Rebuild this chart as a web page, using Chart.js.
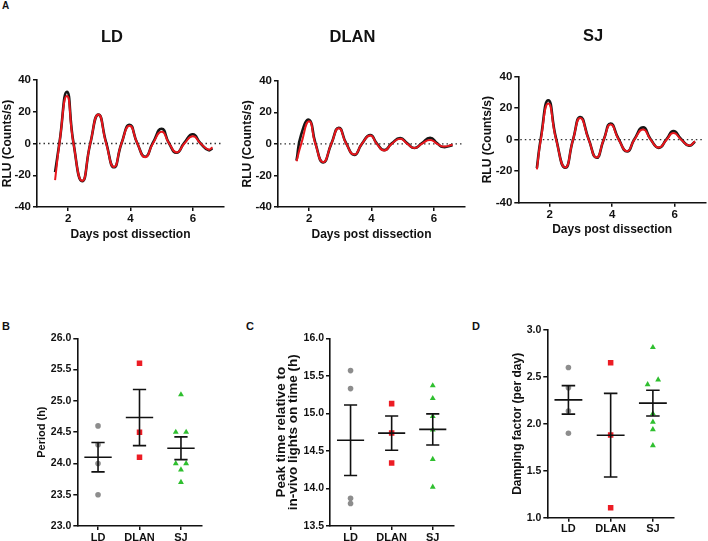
<!DOCTYPE html>
<html><head><meta charset="utf-8">
<script src="https://cdn.jsdelivr.net/npm/chart.js@4.4.1/dist/chart.umd.min.js"></script>
<style>
html,body{margin:0;padding:0;background:#fff;}
body{width:708px;height:541px;position:relative;overflow:hidden;font-family:"Liberation Sans",Arial,sans-serif;}
canvas{position:absolute;}
.lbl{position:absolute;font-weight:bold;line-height:1;color:#111;}
</style></head><body>
<div class="lbl" style="left:2px;top:1px;font-size:10px">A</div>
<div class="lbl" style="left:2px;top:321px;font-size:11px">B</div>
<div class="lbl" style="left:246px;top:321px;font-size:11px">C</div>
<div class="lbl" style="left:472px;top:321px;font-size:11px">D</div>
<canvas id="cLD" width="242" height="230" style="left:0px;top:20px"></canvas>
<canvas id="cDLAN" width="233" height="230" style="left:240px;top:20px"></canvas>
<canvas id="cSJ" width="227" height="230" style="left:480px;top:20px"></canvas>
<canvas id="cB" width="215" height="241" style="left:0px;top:300px"></canvas>
<canvas id="cC" width="235" height="241" style="left:230px;top:300px"></canvas>
<canvas id="cD" width="230" height="241" style="left:460px;top:300px"></canvas>
<script>
// ---------- data ----------
const dayTicks = [2, 4, 6];
const rluTicks = [-40, -20, 0, 20, 40];

const ldDays  = [1.58,1.72,1.96,2.17,2.45,2.71,2.97,3.22,3.47,3.71,3.97,4.22,4.47,4.72,5.0,5.24,5.48,5.73,6.0,6.25,6.5,6.63];
const ldFit   = [-23,0,30,0,-23.5,0,18.3,0,-14.8,0,11.2,0,-8.6,0,7.4,0,-5.6,0,4.6,0,-3.8,-2.5];
const ldData  = [-18,0.5,32.5,0.5,-23.8,0,18.2,0.5,-15,0,11.8,0,-8.3,0.5,9.3,0,-5.8,0.5,5.8,0,-4.2,-3];

const dlanDays = [1.595,1.745,2.0,2.2,2.45,2.71,2.95,3.19,3.45,3.69,3.96,4.17,4.41,4.65,4.92,5.15,5.38,5.61,5.88,6.11,6.3,6.6];
const dlanFit  = [-11,0,14.3,0,-11.6,0,9.9,0,-6.8,0,5.3,0,-4.2,0,3.2,0,-2.7,0,2.5,0,-1.7,-0.6];
const dlanData = [-10.5,6,15.2,0.5,-11.8,0,10.2,0.3,-7,0,5.6,0.3,-4,0.3,3.6,0.3,-2.6,0.3,3.8,0.3,-2,-0.8];

const sjDays = [1.594,1.72,1.96,2.21,2.5,2.75,2.98,3.25,3.5,3.73,3.95,4.21,4.48,4.71,4.99,5.23,5.49,5.74,5.96,6.21,6.46,6.65];
const sjFit  = [-18.9,0,23,0,-17.6,0,13.8,0,-11.3,0,9.6,0,-7.3,0,6.5,0,-5,0,4.2,0,-3.6,-1.0];
const sjData = [-18,1,25,0.5,-17.8,0,14.4,0.3,-11.5,0,10.3,0.3,-7.5,0.3,7.8,0.3,-5.2,0.3,5.5,0.3,-3.8,-1.2];

const groups = ['LD', 'DLAN', 'SJ'];

const periodLD   = [24.6, 24.3, 24.0, 23.5];
const periodDLAN = [25.6, 24.5, 24.1];
const periodSJ   = [25.1, 24.5, 24.5, 24.0, 24.0, 23.9, 23.7];
const periodSJSide = [0, -1, 1, -1, 1, 0, 0];
const periodTicks = [23.0, 23.5, 24.0, 24.5, 25.0, 25.5, 26.0];

const peakLD   = [15.57, 15.33, 13.87, 13.80];
const peakDLAN = [15.13, 14.74, 14.34];
const peakSJ   = [15.37, 15.20, 14.96, 14.78, 14.39, 14.02];
const peakTicks = [13.5, 14.0, 14.5, 15.0, 15.5, 16.0];

const dampLD   = [2.60, 2.385, 2.137, 1.90];
const dampDLAN = [2.65, 1.88, 1.107];
const dampSJ   = [2.815, 2.42, 2.47, 2.11, 2.02, 1.94, 1.77];
const dampSJSide = [0, -1, 1, 0, 0, 0, 0];
const dampTicks = [1.0, 1.5, 2.0, 2.5, 3.0];

// ---------- helpers ----------
const FONT = '"Liberation Sans", Arial, Helvetica, sans-serif';
Chart.defaults.font.family = FONT;
Chart.defaults.color = '#111';
Chart.defaults.animation = false;
const INK = '#111';

const zeroLine = {
  id: 'zeroLine',
  beforeDatasetsDraw(chart) {
    const {ctx, chartArea: a, scales: {y}} = chart;
    const py = y.getPixelForValue(0);
    ctx.save();
    ctx.setLineDash([1.5, 3]);
    ctx.strokeStyle = '#333';
    ctx.lineWidth = 1.3;
    ctx.beginPath();
    ctx.moveTo(a.left + 2, py);
    ctx.lineTo(a.right - 2, py);
    ctx.stroke();
    ctx.restore();
  }
};

function mean(a) { return a.reduce((s, v) => s + v, 0) / a.length; }
function sem(a) {
  const m = mean(a);
  const v = a.reduce((s, x) => s + (x - m) * (x - m), 0) / (a.length - 1);
  return Math.sqrt(v / a.length);
}

const meanSem = {
  id: 'meanSem',
  afterDatasetsDraw(chart, args, o) {
    const {ctx, scales: {x, y}} = chart;
    ctx.save();
    ctx.strokeStyle = INK;
    ctx.lineWidth = 1.6;
    o.sets.forEach((arr, i) => {
      const m = mean(arr), s = sem(arr);
      const xl = x.getPixelForValue(i - 0.33), xr = x.getPixelForValue(i + 0.33);
      const cl = x.getPixelForValue(i - 0.16), cr = x.getPixelForValue(i + 0.16);
      const xc = x.getPixelForValue(i);
      const ym = y.getPixelForValue(m), yt = y.getPixelForValue(m + s), yb = y.getPixelForValue(m - s);
      ctx.beginPath();
      ctx.moveTo(xl, ym); ctx.lineTo(xr, ym);
      ctx.moveTo(cl, yt); ctx.lineTo(cr, yt);
      ctx.moveTo(cl, yb); ctx.lineTo(cr, yb);
      ctx.moveTo(xc, yt); ctx.lineTo(xc, yb);
      ctx.stroke();
    });
    ctx.restore();
  }
};

function gridOpts() {
  return {display: true, drawOnChartArea: false, drawTicks: true, tickLength: 4, color: INK, lineWidth: 1.5};
}
function borderOpts() { return {display: true, color: INK, width: 1.6}; }

function pts(xs, ys) { return xs.map((x, i) => ({x: x, y: ys[i]})); }

function makeTop(id, title, days, fit, data, g) {
  new Chart(document.getElementById(id), {
    type: 'line',
    data: {
      datasets: [
        {data: pts(days, fit), borderColor: '#e8161c', borderWidth: 2.0, pointRadius: 0, tension: 0.55, fill: false},
        {data: pts(days, data), borderColor: '#161616', borderWidth: 2.6, pointRadius: 0, tension: 0.55, fill: false}
      ]
    },
    plugins: [zeroLine],
    options: {
      responsive: false,
      animation: false,
      layout: {padding: {left: 0, right: g.padR, top: 0, bottom: 0}},
      plugins: {
        legend: {display: false},
        tooltip: {enabled: false},
        title: {display: true, text: title, color: INK,
                font: {size: 16.5, weight: 'bold', lineHeight: 1.2},
                padding: {top: g.tTop, bottom: g.tBot}}
      },
      scales: {
        x: {
          type: 'linear', min: 1, max: 7,
          afterBuildTicks: s => { s.ticks = dayTicks.map(v => ({value: v})); },
          afterFit: s => { s.height = g.xH; },
          ticks: {font: {size: 11.5, weight: 'bold'}, color: INK, padding: 1, maxRotation: 0},
          grid: gridOpts(), border: borderOpts(),
          title: {display: true, text: 'Days post dissection', color: INK,
                  font: {size: 12, weight: 'bold', lineHeight: 1.2}, padding: {top: 0, bottom: g.xtPad}}
        },
        y: {
          type: 'linear', min: -40, max: 40,
          afterBuildTicks: s => { s.ticks = rluTicks.map(v => ({value: v})); },
          afterFit: s => { s.width = g.yW; },
          ticks: {font: {size: 11.5, weight: 'bold'}, color: INK, padding: 2},
          grid: gridOpts(), border: borderOpts(),
          title: {display: true, text: 'RLU (Counts/s)', color: INK,
                  font: {size: 12, weight: 'bold', lineHeight: 1.2}, padding: {top: g.ytPad, bottom: 0}}
        }
      }
    }
  });
}

function makeDot(id, sets, sides, yMin, yMax, yTicks, yTitle, g) {
  const styles = [
    {pointStyle: 'circle', pointRadius: 2.8, color: '#8d8d8d'},
    {pointStyle: 'rect', pointRadius: 3.9, color: '#ec1c24'},
    {pointStyle: 'triangle', pointRadius: 3.4, color: '#2fbf2f'}
  ];
  const datasets = sets.map((arr, i) => ({
    data: arr.map((v, j) => ({x: i + (sides[i] ? sides[i][j] * 0.125 : 0), y: v})),
    pointStyle: styles[i].pointStyle,
    pointRadius: styles[i].pointRadius,
    pointBackgroundColor: styles[i].color,
    pointBorderWidth: 0,
    pointBorderColor: styles[i].color,
    showLine: false
  }));
  new Chart(document.getElementById(id), {
    type: 'scatter',
    data: {datasets: datasets},
    plugins: [meanSem],
    options: {
      responsive: false,
      animation: false,
      layout: {padding: {left: 0, right: g.padR, top: g.padT, bottom: 0}},
      plugins: {legend: {display: false}, tooltip: {enabled: false}, meanSem: {sets: sets}},
      scales: {
        x: {
          type: 'linear', min: -0.5, max: 2.5,
          afterBuildTicks: s => { s.ticks = groups.map((v, i) => ({value: i})); },
          afterFit: s => { s.height = g.xH; },
          ticks: {font: {size: 11, weight: 'bold'}, color: INK, padding: 1, maxRotation: 0,
                  callback: v => groups[v]},
          grid: gridOpts(), border: borderOpts()
        },
        y: {
          type: 'linear', min: yMin, max: yMax,
          afterBuildTicks: s => { s.ticks = yTicks.map(v => ({value: v})); },
          afterFit: s => { s.width = g.yW; },
          ticks: {font: {size: 10.5, weight: 'bold'}, color: INK, padding: 2, callback: v => Number(v).toFixed(1)},
          grid: gridOpts(), border: borderOpts(),
          title: {display: true, text: yTitle, color: INK,
                  font: {size: g.ytSize, weight: 'bold', lineHeight: g.ytLH}, padding: {top: g.ytPad, bottom: 0}}
        }
      }
    }
  });
}

makeTop('cLD', 'LD', ldDays, ldFit, ldData, {padR: 18, tTop: 7.2, tBot: 33.0, xH: 43, xtPad: 7.8, yW: 37, ytPad: 0});
makeTop('cDLAN', 'DLAN', dlanDays, dlanFit, dlanData, {padR: 8, tTop: 7.2, tBot: 33.7, xH: 43, xtPad: 7.8, yW: 38, ytPad: 0.3});
makeTop('cSJ', 'SJ', sjDays, sjFit, sjData, {padR: 1, tTop: 6.2, tBot: 30.7, xH: 47.3, xtPad: 12.8, yW: 38.3, ytPad: 0.8});

makeDot('cB', [periodLD, periodDLAN, periodSJ], [null, null, periodSJSide], 23, 26, periodTicks, 'Period (h)',
        {padR: 13.3, padT: 38.3, xH: 15, yW: 77.3, ytSize: 11, ytLH: 1.2, ytPad: 35.1});
makeDot('cC', [peakLD, peakDLAN, peakSJ], [null, null, null], 13.5, 16, peakTicks,
        ['Peak time relative to', 'in-vivo lights on time (h)'],
        {padR: 11.7, padT: 38.3, xH: 15, yW: 100, ytSize: 13.5, ytLH: 0.86, ytPad: 45.9});
makeDot('cD', [dampLD, dampDLAN, dampSJ], [null, null, dampSJSide], 1, 3, dampTicks, 'Damping factor (per day)',
        {padR: 16, padT: 30, xH: 23.3, yW: 87.3, ytSize: 12, ytLH: 1.2, ytPad: 50.8});
</script>
</body></html>
